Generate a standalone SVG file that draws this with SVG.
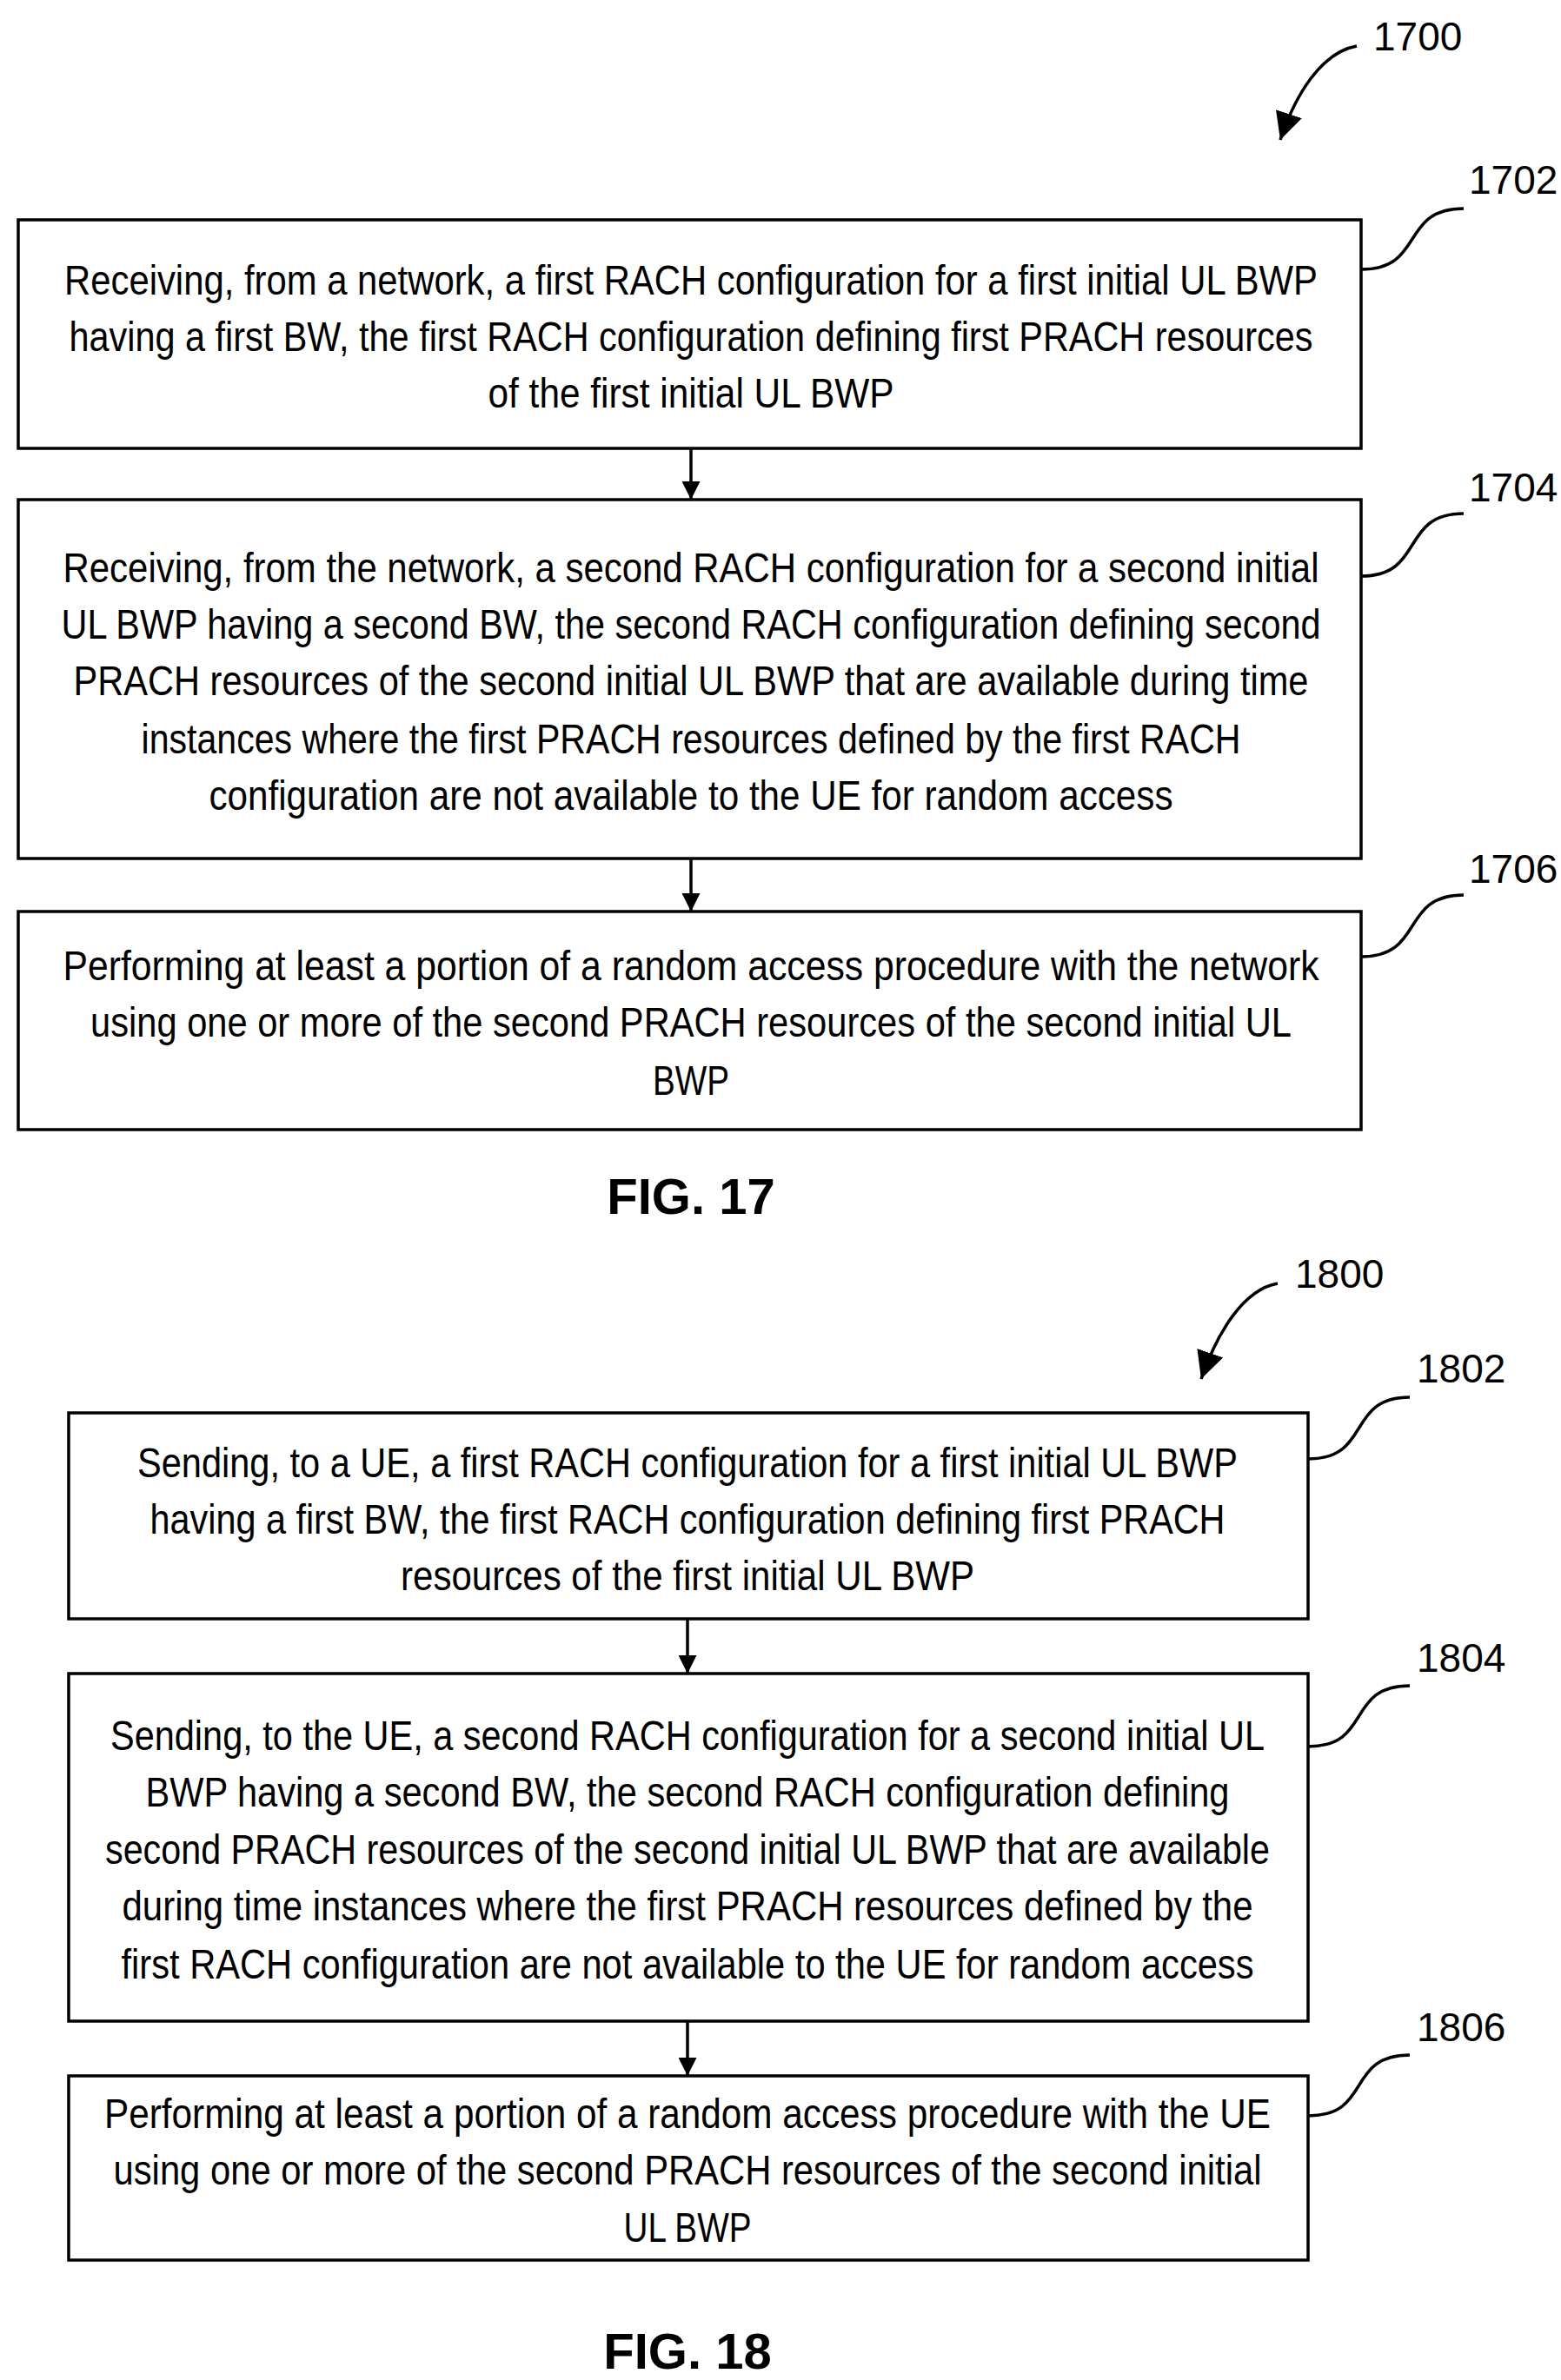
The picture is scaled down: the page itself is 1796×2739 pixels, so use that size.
<svg xmlns="http://www.w3.org/2000/svg" width="1796" height="2739" viewBox="0 0 1796 2739">
<defs>
<style>
.box{fill:#fff;stroke:#000;stroke-width:3.5}
.t{font-family:"Liberation Sans",Arial,sans-serif;font-size:48px;text-anchor:middle;fill:#000}
.ref{font-family:"Liberation Sans",Arial,sans-serif;font-size:46px;fill:#000}
.fig{font-family:"Liberation Sans",Arial,sans-serif;font-size:58px;font-weight:bold;text-anchor:middle;fill:#000}
.ln{fill:none;stroke:#000;stroke-width:3.5}
</style>
<marker id="ah" viewBox="0 0 10 10" refX="10" refY="5" markerWidth="6" markerHeight="6" orient="auto" markerUnits="strokeWidth"><path d="M0,0 L10,5 L0,10 z" fill="#000"/></marker>
<marker id="ah2" viewBox="0 0 10 10" refX="10" refY="5" markerWidth="9" markerHeight="9" orient="auto" markerUnits="strokeWidth"><path d="M0,0 L10,5 L0,10 z" fill="#000"/></marker>
</defs>
<rect width="1796" height="2739" fill="#fff"/>
<g id="connectors">
<line class="ln" x1="795" y1="516" x2="795" y2="575" marker-end="url(#ah)"/>
<line class="ln" x1="795" y1="988" x2="795" y2="1049" marker-end="url(#ah)"/>
<line class="ln" x1="791" y1="1863" x2="791" y2="1926" marker-end="url(#ah)"/>
<line class="ln" x1="791" y1="2326" x2="791" y2="2389" marker-end="url(#ah)"/>
<path class="ln" d="M1566,310 C1640,310 1610,240 1684,240"/>
<path class="ln" d="M1566,663 C1640,663 1610,591 1684,591"/>
<path class="ln" d="M1566,1101 C1640,1101 1610,1030 1684,1030"/>
<path class="ln" d="M1505,1679 C1579,1679 1548,1608 1622,1608"/>
<path class="ln" d="M1505,2010 C1579,2010 1548,1940 1622,1940"/>
<path class="ln" d="M1505,2435 C1579,2435 1548,2365 1622,2365"/>
<path class="ln" d="M1561,53 C1520,60 1490,110 1473,161" marker-end="url(#ah2)"/>
<path class="ln" d="M1470,1477 C1430,1484 1400,1535 1382,1587" marker-end="url(#ah2)"/>
</g>
<g id="n1700"><text class="ref" x="1580" y="58">1700</text></g>
<g id="n1702">
<rect class="box" x="21" y="253" width="1545" height="263"/>
<text class="t" x="795" y="339" textLength="1442" lengthAdjust="spacingAndGlyphs">Receiving, from a network, a first RACH configuration for a first initial UL BWP</text>
<text class="t" x="795" y="404" textLength="1431" lengthAdjust="spacingAndGlyphs">having a first BW, the first RACH configuration defining first PRACH resources</text>
<text class="t" x="795" y="469" textLength="467" lengthAdjust="spacingAndGlyphs">of the first initial UL BWP</text>
<text class="ref" x="1690" y="223">1702</text>
</g>
<g id="n1704">
<rect class="box" x="21" y="575" width="1545" height="413"/>
<text class="t" x="795" y="670" textLength="1445" lengthAdjust="spacingAndGlyphs">Receiving, from the network, a second RACH configuration for a second initial</text>
<text class="t" x="795" y="735" textLength="1449" lengthAdjust="spacingAndGlyphs">UL BWP having a second BW, the second RACH configuration defining second</text>
<text class="t" x="795" y="800" textLength="1421" lengthAdjust="spacingAndGlyphs">PRACH resources of the second initial UL BWP that are available during time</text>
<text class="t" x="795" y="867" textLength="1265" lengthAdjust="spacingAndGlyphs">instances where the first PRACH resources defined by the first RACH</text>
<text class="t" x="795" y="932" textLength="1109" lengthAdjust="spacingAndGlyphs">configuration are not available to the UE for random access</text>
<text class="ref" x="1690" y="577">1704</text>
</g>
<g id="n1706">
<rect class="box" x="21" y="1049" width="1545" height="251"/>
<text class="t" x="795" y="1128" textLength="1445" lengthAdjust="spacingAndGlyphs">Performing at least a portion of a random access procedure with the network</text>
<text class="t" x="795" y="1193" textLength="1382" lengthAdjust="spacingAndGlyphs">using one or more of the second PRACH resources of the second initial UL</text>
<text class="t" x="795" y="1260" textLength="88" lengthAdjust="spacingAndGlyphs">BWP</text>
<text class="ref" x="1690" y="1016">1706</text>
</g>
<g id="fig17"><text class="fig" x="795" y="1397">FIG. 17</text></g>
<g id="n1800"><text class="ref" x="1490" y="1482">1800</text></g>
<g id="n1802">
<rect class="box" x="79" y="1626" width="1426" height="237"/>
<text class="t" x="791" y="1700" textLength="1266" lengthAdjust="spacingAndGlyphs">Sending, to a UE, a first RACH configuration for a first initial UL BWP</text>
<text class="t" x="791" y="1765" textLength="1237" lengthAdjust="spacingAndGlyphs">having a first BW, the first RACH configuration defining first PRACH</text>
<text class="t" x="791" y="1830" textLength="660" lengthAdjust="spacingAndGlyphs">resources of the first initial UL BWP</text>
<text class="ref" x="1630" y="1591">1802</text>
</g>
<g id="n1804">
<rect class="box" x="79" y="1926" width="1426" height="400"/>
<text class="t" x="791" y="2014" textLength="1328" lengthAdjust="spacingAndGlyphs">Sending, to the UE, a second RACH configuration for a second initial UL</text>
<text class="t" x="791" y="2079" textLength="1247" lengthAdjust="spacingAndGlyphs">BWP having a second BW, the second RACH configuration defining</text>
<text class="t" x="791" y="2145" textLength="1340" lengthAdjust="spacingAndGlyphs">second PRACH resources of the second initial UL BWP that are available</text>
<text class="t" x="791" y="2210" textLength="1301" lengthAdjust="spacingAndGlyphs">during time instances where the first PRACH resources defined by the</text>
<text class="t" x="791" y="2277" textLength="1303" lengthAdjust="spacingAndGlyphs">first RACH configuration are not available to the UE for random access</text>
<text class="ref" x="1630" y="1924">1804</text>
</g>
<g id="n1806">
<rect class="box" x="79" y="2389" width="1426" height="212"/>
<text class="t" x="791" y="2449" textLength="1342" lengthAdjust="spacingAndGlyphs">Performing at least a portion of a random access procedure with the UE</text>
<text class="t" x="791" y="2514" textLength="1321" lengthAdjust="spacingAndGlyphs">using one or more of the second PRACH resources of the second initial</text>
<text class="t" x="791" y="2580" textLength="147" lengthAdjust="spacingAndGlyphs">UL BWP</text>
<text class="ref" x="1630" y="2349">1806</text>
</g>
<g id="fig18"><text class="fig" x="791" y="2726">FIG. 18</text></g>
</svg>
